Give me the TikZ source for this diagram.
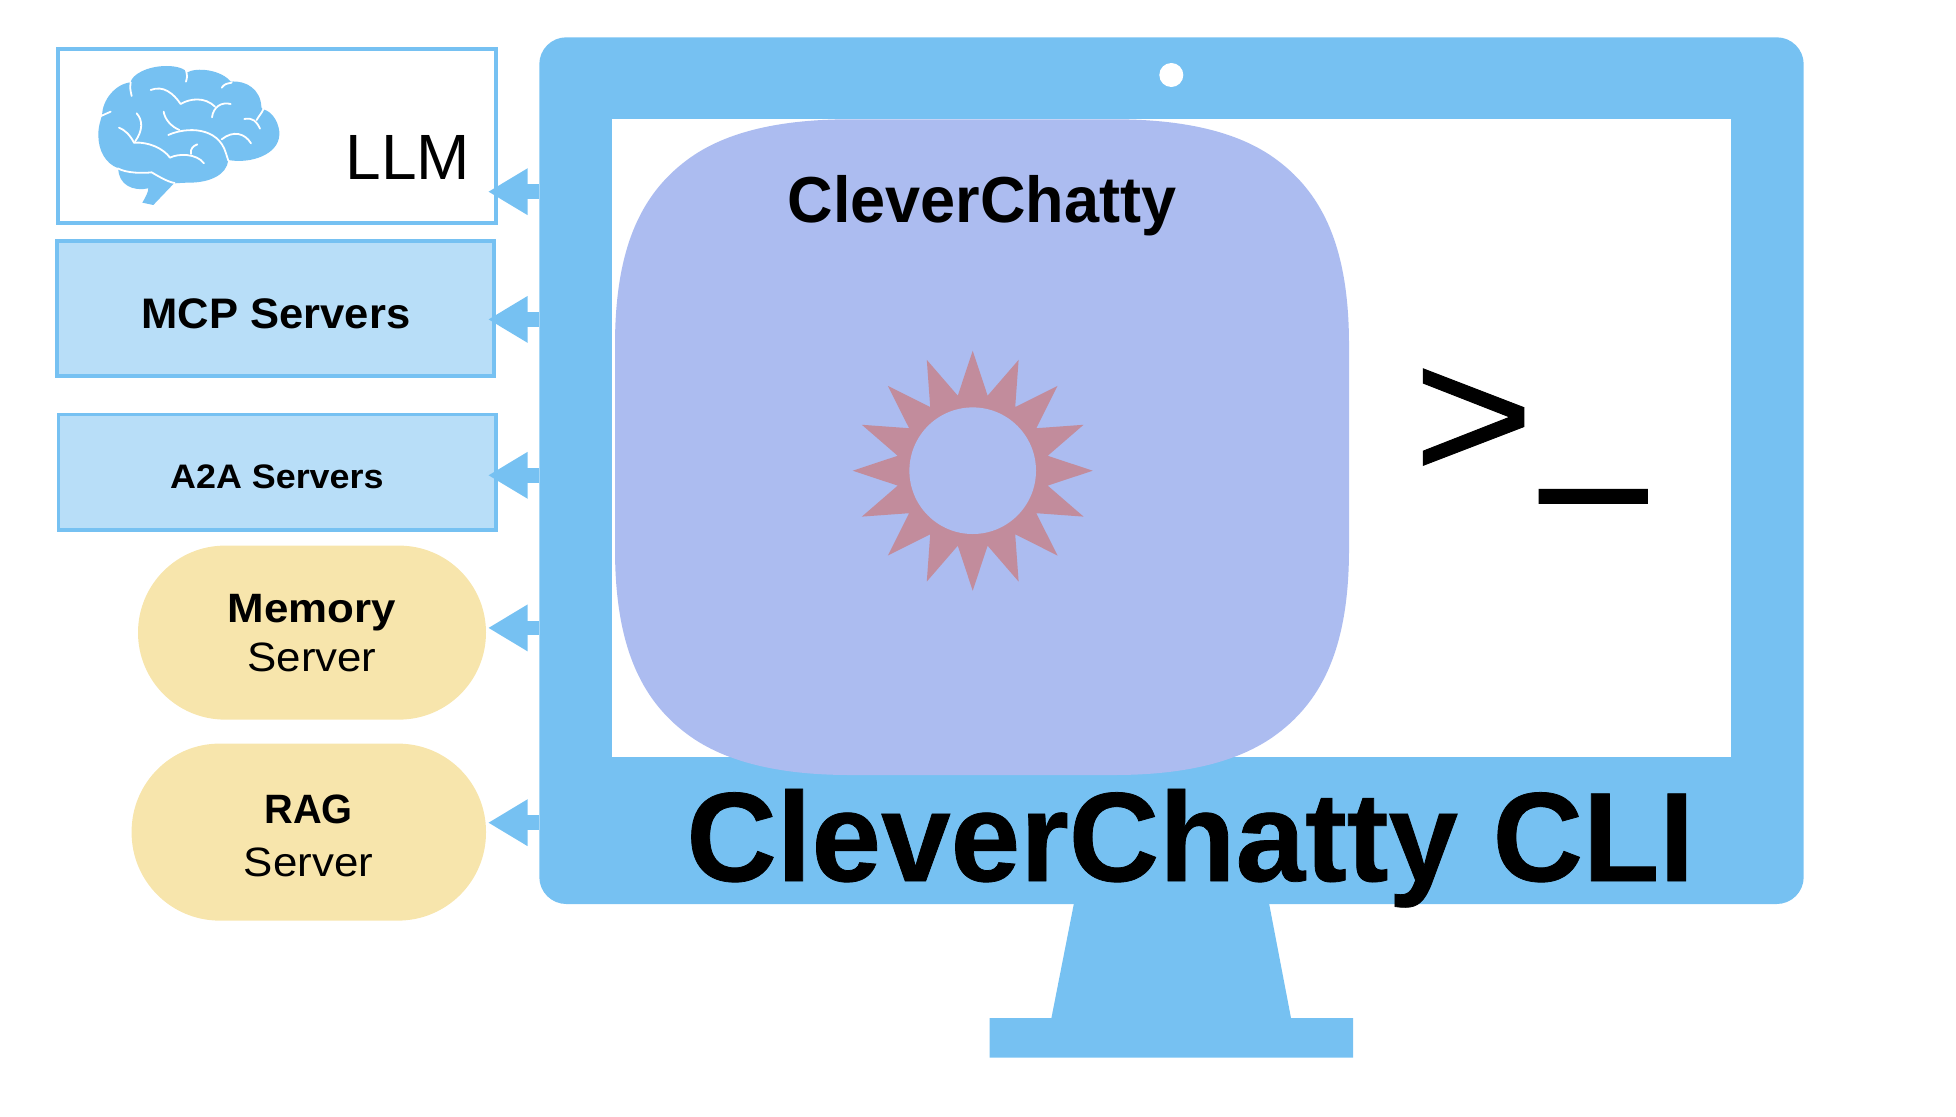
\documentclass[tikz,border=0pt]{standalone}
\usepackage{fontspec}
\setmainfont{Liberation Sans}
\usetikzlibrary{arrows.meta,shapes.geometric}
\definecolor{mon}{RGB}{118,193,242}
\definecolor{blobc}{RGB}{172,188,240}
\definecolor{boxc}{RGB}{184,222,248}
\definecolor{pill}{RGB}{247,229,172}
\definecolor{starc}{RGB}{194,140,156}
\tikzset{
  plain/.style={inner sep=0pt,outer sep=0pt},
  sbox/.style={plain,draw=mon,line width=3.5pt,rectangle},
  pillbox/.style={plain,fill=pill,rectangle},
  label/.style={plain,anchor=base,text=black},
  link/.style={draw=mon,line width=14.6pt,-{Triangle[length=39.7pt,width=44pt]}},
  crease/.style={draw=white,line width=1.8pt,line cap=round,line join=round},
}
\newcommand{\fsz}[1]{\fontsize{#1}{#1}\selectfont}
\newcommand{\wide}[1]{\addfontfeatures{FakeStretch=#1}}
\begin{document}
\begin{tikzpicture}[x=1pt,y=-1pt]
\useasboundingbox (0,0) rectangle (1956,1116);
% side boxes
\node[sbox,fill=white,minimum width=438.2pt,minimum height=174pt] (llm) at (277.1,136) {};
\node[sbox,fill=boxc,minimum width=437.4pt,minimum height=135.2pt] (mcp) at (275.5,308.4) {};
\node[sbox,fill=boxc,minimum width=437.9pt,minimum height=115.9pt] (a2a) at (277.25,472.25) {};
\node[pillbox,rounded corners=87pt,minimum width=348pt,minimum height=174pt] (mem) at (312,632.6) {};
\node[pillbox,rounded corners=88pt,minimum width=354.4pt,minimum height=177pt] (rag) at (308.8,832.1) {};
% stand
\fill[mon] (1074.6,900) -- (1268.4,900) -- (1291,1018) -- (1353,1018) -- (1353,1057.7) -- (989.6,1057.7) -- (989.6,1018) -- (1051.4,1018) -- cycle;
% monitor
\node[plain,fill=mon,rounded corners=27pt,minimum width=1264.4pt,minimum height=866.7pt] (monitor) at (1171.5,470.65) {};
\node[plain,fill=white,minimum width=1119.3pt,minimum height=637.4pt] (screen) at (1171.65,438) {};
\node[plain,fill=white,circle,minimum size=24pt] (cam) at (1171.3,75) {};
% connectors from the monitor
\coordinate (llmtip) at (488,191.7);
\coordinate (mcptip) at (488,319.4);
\coordinate (a2atip) at (488,475.3);
\coordinate (memtip) at (488,627.9);
\coordinate (ragtip) at (488,822.7);
\foreach \t in {llmtip,mcptip,a2atip,memtip,ragtip}
  \draw[link] (monitor.west |- \t) -- (\t);
% app blob
\fill[blobc] (615,345) .. controls (615,250) and (640,195) .. (687,160)
  .. controls (727,130) and (785,119.3) .. (850,119.3) -- (1114,119.3)
  .. controls (1179,119.3) and (1237,130) .. (1277,160)
  .. controls (1324,195) and (1349,250) .. (1349,345) -- (1349,549)
  .. controls (1349,644) and (1324,699) .. (1277,734)
  .. controls (1237,764) and (1179,775) .. (1114,775) -- (850,775)
  .. controls (785,775) and (727,764) .. (687,734)
  .. controls (640,699) and (615,644) .. (615,549) -- cycle;
% sun
\node[plain,star,star points=16,star point ratio=1.569,fill=starc,minimum size=240pt] (sun) at (972.7,470.7) {};
\node[plain,circle,fill=blobc,minimum size=126.6pt] (hole) at (972.7,470.7) {};
% brain
\begin{scope}[shift={(90,60)},x=.33333pt,y=-.33333pt]
\fill[mon] (25,225) .. controls (25,195) and (33,180) .. (36,165)
  .. controls (38,120) and (75,72) .. (122,67)
  .. controls (125,45) and (170,18) .. (230,18)
  .. controls (265,18) and (287,28) .. (290,38)
  .. controls (320,20) and (395,30) .. (422,65)
  .. controls (470,60) and (512,90) .. (514,140)
  .. controls (514,145) and (516,147) .. (520,148)
  .. controls (550,155) and (570,195) .. (568,225)
  .. controls (565,285) and (480,312) .. (415,300)
  .. controls (410,345) and (360,367) .. (300,368)
  .. controls (275,368) and (262,370) .. (252,370)
  -- (190,435) -- (157,428)
  .. controls (168,410) and (175,395) .. (175,385)
  .. controls (130,395) and (85,375) .. (85,325)
  .. controls (45,310) and (25,270) .. (25,225) -- cycle;
\draw[crease] (33,168) -- (62,155);
\draw[crease] (122,67) .. controls (120,85) .. (125,108);
\draw[crease] (288,30) .. controls (292,50) .. (288,65);
\draw[crease] (395,83) .. controls (405,72) .. (425,68);
\draw[crease] (182,90) .. controls (220,75) and (250,100) .. (272,132)
  .. controls (300,115) and (345,110) .. (375,140);
\draw[crease] (366,172) .. controls (370,140) and (395,125) .. (422,132);
\draw[crease] (221,155) .. controls (225,180) and (245,200) .. (268,210);
\draw[crease] (235,225) .. controls (290,200) and (385,200) .. (408,280) -- (415,302);
\draw[crease] (395,238) .. controls (430,210) and (465,220) .. (483,250);
\draw[crease] (463,177) .. controls (490,172) and (500,185) .. (510,206);
\draw[crease] (500,180) .. controls (505,170) and (515,160) .. (520,148);
\draw[crease] (87,203) .. controls (105,210) and (120,225) .. (132,248);
\draw[crease] (140,160) .. controls (158,180) and (160,210) .. (135,245);
\draw[crease] (132,248) .. controls (175,245) and (220,265) .. (240,293)
  .. controls (265,280) and (320,280) .. (342,310);
\draw[crease] (303,282) .. controls (300,265) and (310,258) .. (322,253);
\draw[crease] (83,325) .. controls (110,340) and (160,340) .. (185,337)
  .. controls (210,352) and (235,366) .. (254,369);
\end{scope}
% texts
\node[label,font=\fsz{64}] (llmt) at (408,179) {LLM};
\node[label,font=\fsz{42.7}\bfseries\wide{1.02}] (mcpt) at (276,328.3) {MCP Servers};
\node[label,font=\fsz{34}\bfseries\wide{1.055}] (a2at) at (276.9,488.6) {A2A Servers};
\node[label,font=\fsz{41}\bfseries\wide{1.07}] (memt) at (312,622) {Memory};
\node[label,font=\fsz{41}\wide{1.07}] (mems) at (312,671.4) {Server};
\node[label,font=\fsz{41}\bfseries\wide{0.97}] (ragt) at (308.5,823.6) {RAG};
\node[label,font=\fsz{41}\wide{1.07}] (rags) at (308.5,876.4) {Server};
\node[label,font=\fsz{65}\bfseries\wide{0.97}] (cc) at (982,222) {CleverChatty};
\node[label,font=\fsz{127}\bfseries\addfontfeatures{FakeStretch=0.985,FakeBold=0.6}] (cli) at (1190.4,881) {CleverChatty CLI};
\node[label,anchor=base west,font=\fsz{190}\addfontfeatures{FakeStretch=1.09,FakeBold=0.5}] (prompt) at (1413,479.6) {>\kern9pt\raisebox{15pt}{\addfontfeatures{FakeStretch=0.96,FakeBold=1.6}\_}};
\end{tikzpicture}
\end{document}
